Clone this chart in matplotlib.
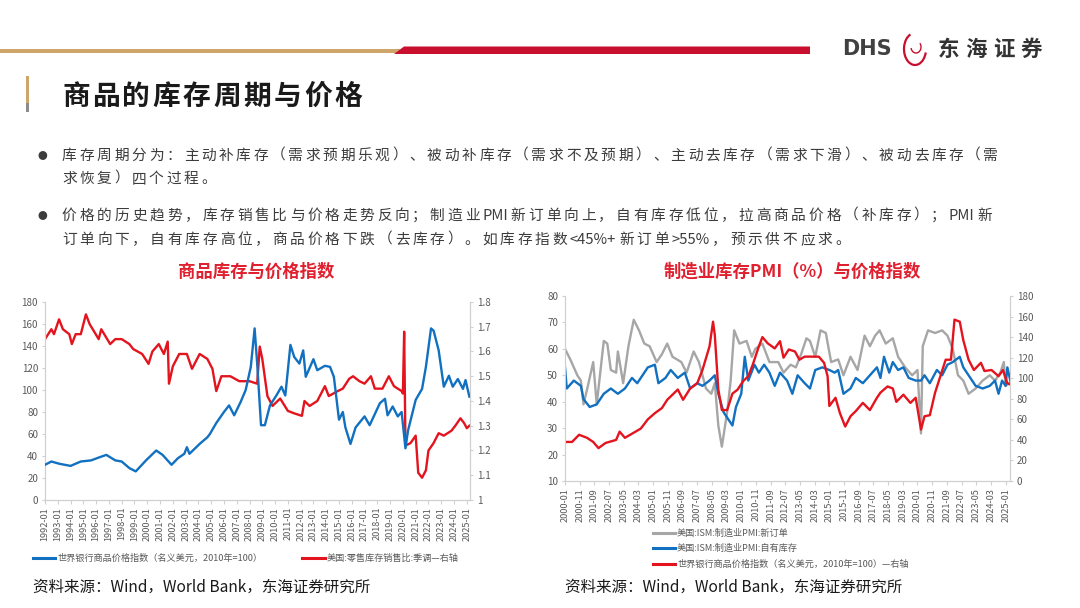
import re
import numpy as np
import matplotlib
matplotlib.use("Agg")
import matplotlib.pyplot as plt
from matplotlib.lines import Line2D
from matplotlib.patches import Polygon, Arc, Rectangle

plt.rcParams['font.family'] = ['Noto Sans CJK SC', 'DejaVu Sans']

# ---- 左图：世界银行商品价格指数 vs 美国零售库存销售比 ----
left_t = [1992.0, 1992.5, 1993.1, 1994.0, 1994.8, 1995.6, 1996.3, 1996.8, 1997.5, 1998.0,
          1998.6, 1999.1, 1999.9, 2000.7, 2001.2, 2001.9, 2002.4, 2002.9, 2003.1, 2003.3,
          2004.1, 2004.7, 2004.9, 2005.4, 2006.0, 2006.4, 2006.8, 2007.3, 2007.7, 2008.1,
          2008.4, 2008.6, 2008.9, 2009.2, 2009.6, 2010.1, 2010.5, 2010.8, 2011.2, 2011.5,
          2011.9, 2012.2, 2012.4, 2013.0, 2013.3, 2013.9, 2014.3, 2014.6, 2015.0, 2015.3,
          2015.5, 2015.9, 2016.3, 2017.0, 2017.4, 2018.2, 2018.6, 2018.8, 2019.2, 2019.6,
          2019.9, 2020.2, 2020.4, 2021.0, 2021.5, 2021.8, 2022.2, 2022.4, 2022.8, 2023.2,
          2023.6, 2023.9, 2024.3, 2024.7, 2024.9, 2025.2]
wb_index = [32, 35, 33, 31, 35, 36, 39, 41, 36, 35,
            29, 26, 36, 45, 41, 32, 38, 42, 48, 42,
            51, 57, 60, 70, 80, 86, 77, 89, 100, 121,
            156, 124, 68, 68, 86, 95, 103, 95, 141, 130,
            124, 136, 112, 128, 118, 122, 121, 112, 73, 80,
            66, 51, 66, 76, 68, 88, 92, 77, 85, 76,
            80, 47, 63, 91, 101, 121, 156, 154, 136, 103,
            113, 103, 110, 101, 109, 94]

ratio_t = [1992.0, 1992.5, 1992.7, 1993.1, 1993.4, 1993.9, 1994.1, 1994.4, 1994.8, 1995.2,
           1995.5, 1996.2, 1996.4, 1997.1, 1997.5, 1998.0, 1998.6, 1998.9, 1999.6, 2000.1,
           2000.4, 2000.9, 2001.3, 2001.6, 2001.7, 2002.0, 2002.5, 2003.1, 2003.5, 2004.1,
           2004.7, 2005.1, 2005.4, 2005.8, 2006.5, 2007.2, 2008.0, 2008.6, 2008.8, 2009.0,
           2009.4, 2009.8, 2010.4, 2011.0, 2011.5, 2012.1, 2012.3, 2012.7, 2013.3, 2013.9,
           2014.2, 2014.9, 2015.3, 2015.8, 2016.1, 2016.6, 2017.0, 2017.5, 2017.8, 2018.4,
           2018.9, 2019.3, 2019.9, 2020.0, 2020.1, 2020.2, 2020.6, 2021.0, 2021.2, 2021.5,
           2021.8, 2022.0, 2022.4, 2022.8, 2023.2, 2023.8, 2024.1, 2024.5, 2024.8, 2025.0,
           2025.2]
retail_ratio = [1.65, 1.69, 1.67, 1.73, 1.69, 1.67, 1.63, 1.67, 1.67, 1.75,
                1.71, 1.65, 1.69, 1.63, 1.65, 1.65, 1.63, 1.61, 1.59, 1.55,
                1.60, 1.63, 1.59, 1.64, 1.47, 1.54, 1.59, 1.59, 1.53, 1.59,
                1.57, 1.53, 1.44, 1.50, 1.50, 1.48, 1.48, 1.47, 1.62, 1.57,
                1.42, 1.38, 1.41, 1.36, 1.35, 1.34, 1.40, 1.38, 1.40, 1.46,
                1.42, 1.44, 1.45, 1.49, 1.50, 1.48, 1.47, 1.50, 1.45, 1.45,
                1.50, 1.46, 1.44, 1.43, 1.68, 1.22, 1.23, 1.26, 1.11, 1.09,
                1.12, 1.20, 1.23, 1.27, 1.26, 1.28, 1.30, 1.33, 1.31, 1.29,
                1.30]

# ---- 右图：ISM 新订单、自有库存 vs 商品价格指数 ----
orders_t = [2000.0, 2000.3, 2000.7, 2000.9, 2001.05, 2001.3, 2001.6, 2001.8, 2002.2, 2002.4,
            2002.6, 2002.9, 2003.0, 2003.3, 2003.6, 2003.9, 2004.2, 2004.5, 2004.8, 2005.2,
            2005.5, 2005.8, 2006.1, 2006.6, 2006.9, 2007.3, 2007.6, 2008.0, 2008.3, 2008.5,
            2008.7, 2008.9, 2009.2, 2009.4, 2009.6, 2009.9, 2010.3, 2010.6, 2010.8, 2011.2,
            2011.6, 2012.1, 2012.4, 2012.8, 2013.1, 2013.4, 2013.7, 2013.9, 2014.2, 2014.5,
            2014.8, 2015.1, 2015.5, 2015.8, 2016.2, 2016.6, 2017.0, 2017.3, 2017.6, 2017.85,
            2018.2, 2018.6, 2018.9, 2019.3, 2019.7, 2020.0, 2020.2, 2020.3, 2020.6, 2021.0,
            2021.4, 2021.7, 2022.0, 2022.3, 2022.6, 2022.9, 2023.3, 2023.7, 2024.1, 2024.4,
            2024.7, 2024.9, 2025.0, 2025.2]
new_orders = [60, 56, 50, 48, 39, 46, 55, 39, 63, 62,
              52, 51, 59, 47, 61, 71, 67, 62, 61, 55,
              58, 62, 57, 55, 51, 59, 55, 45, 43, 47,
              31, 23, 36, 48, 67, 62, 63, 57, 60, 62,
              55, 55, 51, 54, 53, 58, 64, 63, 57, 67,
              66, 55, 56, 50, 57, 52, 65, 61, 65, 67,
              62, 64, 57, 53, 50, 52, 28, 61, 67, 66,
              67, 65, 60, 50, 48, 43, 45, 48, 50, 48,
              51, 55, 46, 47]

inv_t = [2000.0, 2000.1, 2000.5, 2000.9, 2001.05, 2001.4, 2001.8, 2002.2, 2002.6, 2003.0,
         2003.4, 2003.8, 2004.1, 2004.4, 2004.7, 2005.1, 2005.3, 2005.7, 2006.0, 2006.4,
         2006.8, 2007.1, 2007.5, 2007.8, 2008.2, 2008.5, 2008.7, 2009.0, 2009.2, 2009.5,
         2009.7, 2010.0, 2010.2, 2010.4, 2010.75, 2011.0, 2011.3, 2011.6, 2011.9, 2012.2,
         2012.6, 2012.9, 2013.2, 2013.6, 2013.9, 2014.2, 2014.6, 2015.0, 2015.3, 2015.5,
         2015.8, 2016.2, 2016.5, 2016.9, 2017.3, 2017.7, 2017.9, 2018.1, 2018.4, 2018.6,
         2018.9, 2019.2, 2019.5, 2019.9, 2020.2, 2020.4, 2020.7, 2021.1, 2021.4, 2021.7,
         2022.0, 2022.4, 2022.6, 2022.9, 2023.3, 2023.7, 2024.1, 2024.4, 2024.6, 2024.8,
         2025.0, 2025.1, 2025.3]
inventories = [53, 45, 48, 46, 41, 38, 39, 43, 45, 43,
               45, 49, 47, 50, 53, 54, 47, 49, 52, 49,
               51, 45, 47, 46, 48, 50, 43, 36, 34, 31,
               38, 43, 57, 48, 54, 51, 54, 51, 46, 51,
               48, 43, 50, 47, 45, 52, 53, 52, 51, 52,
               43, 45, 49, 47, 50, 53, 49, 57, 51, 55,
               52, 53, 49, 48, 48, 50, 47, 52, 50, 54,
               55, 57, 53, 50, 46, 45, 46, 48, 43, 48,
               46, 53, 47]

price_t = [2000.0, 2000.4, 2000.8, 2001.25, 2001.6, 2001.9, 2002.3, 2002.9, 2003.1, 2003.4,
           2003.9, 2004.3, 2004.7, 2005.1, 2005.5, 2005.8, 2006.1, 2006.4, 2006.7, 2007.1,
           2007.5, 2007.8, 2008.2, 2008.4, 2008.5, 2008.7, 2008.9, 2009.2, 2009.5, 2009.8,
           2010.1, 2010.4, 2010.65, 2011.0, 2011.2, 2011.5, 2011.9, 2012.2, 2012.4, 2012.7,
           2013.05, 2013.3, 2013.6, 2013.9, 2014.4, 2014.7, 2014.9, 2015.0, 2015.35, 2015.6,
           2015.9, 2016.2, 2016.5, 2016.9, 2017.3, 2017.7, 2017.9, 2018.3, 2018.6, 2018.8,
           2019.2, 2019.6, 2019.9, 2020.2, 2020.4, 2020.7, 2021.0, 2021.3, 2021.6, 2021.9,
           2022.1, 2022.4, 2022.6, 2022.9, 2023.2, 2023.6, 2023.8, 2024.2, 2024.6, 2024.85,
           2025.1, 2025.25]
price_index = [38, 38, 45, 42, 38, 32, 37, 40, 48, 42,
               47, 51, 60, 66, 71, 79, 84, 89, 79, 90,
               95, 108, 131, 155, 142, 89, 69, 69, 85, 89,
               97, 102, 113, 131, 140, 134, 129, 136, 120, 128,
               126, 118, 121, 121, 121, 115, 102, 73, 81, 66,
               53, 63, 68, 76, 69, 81, 86, 92, 90, 77,
               84, 76, 81, 50, 63, 64, 86, 102, 118, 118,
               157, 155, 137, 118, 108, 115, 107, 108, 102, 108,
               95, 94]

left_years = list(range(1992, 2026))
right_months = list(range(0, 301, 10))  # 每10个月一个刻度，从2000-01起

W, H = 1080, 608
BLUE = '#1170C0'
RED = '#E3141E'
GRAY = '#A6A6A6'
TXT = '#3C3C3C'
TICK = '#595959'
SPINE = '#D0D0D0'

fig = plt.figure(figsize=(W / 100, H / 100), dpi=100)
fig.patch.set_facecolor('white')
rend = fig.canvas.get_renderer()


def fx(px):
    return px / W


def fy(py):
    return 1 - py / H


def spaced(x, y, s, size, end=None, track=0.0, **kw):
    # 逐字排版（英文数字连写），模拟 PPT 的字间距
    tokens = re.findall(r'[A-Za-z0-9<>%+=.]+|.', s)
    items = []
    for tok in tokens:
        t = fig.text(fx(x), fy(y), tok, fontsize=size, va='center', ha='left', **kw)
        items.append((t, t.get_window_extent(rend).width))
    if end is not None and len(items) > 1:
        total = sum(w for _, w in items)
        track = (end - x - total) / (len(items) - 1)
    cx = x
    for t, w in items:
        t.set_x(fx(cx))
        cx += w + track
    return track


# ---- 顶部装饰条与标志 ----
fig.add_artist(Rectangle((0, fy(53)), fx(400), 3.5 / H, transform=fig.transFigure,
                         color='#CFA66A', lw=0))
fig.add_artist(Polygon([[fx(394), fy(54)], [fx(404), fy(46.5)], [fx(810), fy(46.5)], [fx(810), fy(54)]],
                       closed=True, transform=fig.transFigure, color='#C8102E', lw=0))
fig.text(fx(842), fy(49), 'DHS', fontsize=15, fontweight='bold', color='#404040',
         va='center', ha='left', family=['DejaVu Sans'])
fig.add_artist(Arc((fx(915), fy(49)), 22 / W, 32 / H, theta1=100, theta2=330,
                   transform=fig.transFigure, color='#C8102E', lw=1.6))
fig.add_artist(Arc((fx(916), fy(47)), 10 / W, 12 / H, theta1=200, theta2=60,
                   transform=fig.transFigure, color='#C8102E', lw=1.0))
spaced(938, 49, '东海证券', 15.5, end=1042, fontweight='bold', color='#333333')

# ---- 页面标题 ----
fig.add_artist(Rectangle((fx(26), fy(103)), 3 / W, 27 / H, transform=fig.transFigure,
                         color='#CFA66A', lw=0))
fig.add_artist(Rectangle((fx(26), fy(112)), 3 / W, 9 / H, transform=fig.transFigure,
                         color='#8C8C8C', lw=0))
spaced(62, 97, '商品的库存周期与价格', 20, end=362, fontweight='bold', color='#1A1A1A')

# ---- 要点文字 ----
BODY = 10.6
fig.text(fx(42), fy(156), '●', fontsize=7, color=TXT, va='center', ha='center')
tr = spaced(62, 156, '库存周期分为：主动补库存（需求预期乐观）、被动补库存（需求不及预期）、主动去库存（需求下滑）、被动去库存（需',
            BODY, end=998, color=TXT)
spaced(62, 179, '求恢复）四个过程。', BODY, track=tr, color=TXT)
fig.text(fx(42), fy(216), '●', fontsize=7, color=TXT, va='center', ha='center')
tr = spaced(62, 216, '价格的历史趋势，库存销售比与价格走势反向；制造业PMI新订单向上，自有库存低位，拉高商品价格（补库存）；PMI新',
            BODY, end=992, color=TXT)
spaced(62, 240, '订单向下，自有库存高位，商品价格下跌（去库存）。如库存指数<45%+新订单>55%，预示供不应求。',
       BODY, track=tr, color=TXT)

# ---- 图标题 ----
fig.text(fx(256), fy(272), '商品库存与价格指数', fontsize=12.5, fontweight='bold',
         color='#E0202E', ha='center', va='center')
fig.text(fx(792), fy(272), '制造业库存PMI（%）与价格指数', fontsize=12.5, fontweight='bold',
         color='#E0202E', ha='center', va='center')


def style_axes(ax, ax2):
    for a in (ax, ax2):
        a.set_facecolor('none')
        a.spines['top'].set_visible(False)
        for s in ('left', 'right', 'bottom'):
            a.spines[s].set_color(SPINE)
            a.spines[s].set_linewidth(0.8)
        a.tick_params(axis='y', length=2, colors=SPINE, labelcolor=TICK, labelsize=7, pad=3)
    ax.tick_params(axis='x', length=3, colors=SPINE, labelcolor=TICK, labelsize=6.6,
                   rotation=90, pad=2)


# ---- 左图 ----
ax = fig.add_axes([fx(45), fy(500), fx(470) - fx(45), (500 - 302) / H])
ax2 = ax.twinx()
ax.plot(left_t, wb_index, color=BLUE, lw=1.7, zorder=3)
ax2.plot(ratio_t, retail_ratio, color=RED, lw=1.7, zorder=2)
ax.set_xlim(1992.0, 2025.25)
ax.set_ylim(0, 180)
ax.set_yticks(np.arange(0, 181, 20))
ax2.set_ylim(1.0, 1.8)
ax2.set_yticks(np.arange(1.0, 1.81, 0.1))
ax2.set_yticklabels(['1', '1.1', '1.2', '1.3', '1.4', '1.5', '1.6', '1.7', '1.8'])
ax.set_xticks(left_years)
ax.set_xticklabels([f'{y}-01' for y in left_years])
style_axes(ax, ax2)
ax.set_zorder(ax2.get_zorder() + 1)

# ---- 右图 ----
bx = fig.add_axes([fx(565), fy(481), fx(1010) - fx(565), (481 - 296) / H])
bx2 = bx.twinx()
bx.plot(orders_t, new_orders, color=GRAY, lw=1.7, zorder=2)
bx.plot(inv_t, inventories, color=BLUE, lw=1.7, zorder=3)
bx2.plot(price_t, price_index, color=RED, lw=1.7)
bx.set_xlim(2000.0, 2025.25)
bx.set_ylim(10, 80)
bx.set_yticks(np.arange(10, 81, 10))
bx2.set_ylim(0, 180)
bx2.set_yticks(np.arange(0, 181, 20))
bx.set_xticks([2000 + m / 12 for m in right_months])
bx.set_xticklabels([f'{2000 + m // 12}-{m % 12 + 1:02d}' for m in right_months])
style_axes(bx, bx2)

# ---- 图例 ----
def legend_item(x0, x1, y, color, label):
    fig.add_artist(Line2D([fx(x0), fx(x1)], [fy(y), fy(y)], transform=fig.transFigure,
                          color=color, lw=2.2))
    fig.text(fx(x1 + 2), fy(y), label, fontsize=6.6, color=TICK, va='center', ha='left')


legend_item(33, 55, 558, BLUE, '世界银行商品价格指数（名义美元，2010年=100）')
legend_item(302, 325, 558, RED, '美国:零售库存销售比:季调—右轴')
legend_item(653, 675, 533, GRAY, '美国:ISM:制造业PMI:新订单')
legend_item(653, 675, 548, BLUE, '美国:ISM:制造业PMI:自有库存')
legend_item(653, 675, 564, RED, '世界银行商品价格指数（名义美元，2010年=100）—右轴')

# ---- 资料来源 ----
fig.text(fx(33), fy(587), '资料来源：Wind，World Bank，东海证券研究所', fontsize=11.2,
         color='#1A1A1A', va='center', ha='left')
fig.text(fx(565), fy(587), '资料来源：Wind，World Bank，东海证券研究所', fontsize=11.2,
         color='#1A1A1A', va='center', ha='left')

fig.savefig('out.png', dpi=100, facecolor='white')
